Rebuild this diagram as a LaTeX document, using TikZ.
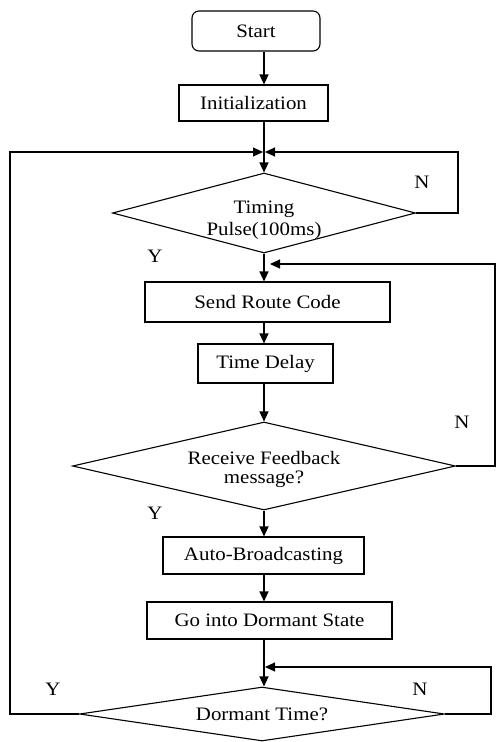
\documentclass[tikz,border=0pt]{standalone}
\usepackage{fontspec}
\setmainfont{Liberation Serif}[FakeStretch=1.1]
\usetikzlibrary{shapes.geometric,arrows.meta,calc}
\begin{document}
\begin{tikzpicture}[x=1pt,y=-1pt,
  every node/.style={font=\fontsize{19}{21}\selectfont},
  box/.style={draw,line width=1.1pt,inner sep=0pt,anchor=center},
  dia/.style={draw,diamond,line width=1.1pt,inner sep=0pt,align=center,shape aspect=3.8},
  lbl/.style={inner sep=0pt,anchor=center},
  ln/.style={line width=1.1pt},
  arr/.style={line width=1.1pt,-{Triangle[length=10pt,width=9pt]}}]
\useasboundingbox (0,0) rectangle (496,742);
\coordinate (cx) at (264,0);
\node[box,rounded corners=7pt,minimum width=128pt,minimum height=40pt] (start) at (256,31) {Start};
\node[box,minimum width=149pt,minimum height=36pt] (init) at (253.5,103) {Initialization};
\node[dia,minimum width=303pt,minimum height=80pt] (d1) at (264,213) {\raisebox{-7pt}[\height][\depth]{\begin{tabular}{@{}c@{}}Timing\\[1pt]Pulse(100ms)\end{tabular}}};
\node[box,minimum width=245pt,minimum height=40pt] (send) at (267.5,302) {Send Route Code};
\node[box,minimum width=135pt,minimum height=39pt] (delay) at (265.5,363.5) {Time Delay};
\node[dia,minimum width=383pt,minimum height=88pt] (d2) at (264,466) {\raisebox{-4pt}[\height][\depth]{\begin{tabular}{@{}c@{}}Receive Feedback\\[-2pt]message?\end{tabular}}};
\node[box,minimum width=201pt,minimum height=37pt] (auto) at (263.5,555.5) {Auto-Broadcasting};
\node[box,minimum width=245pt,minimum height=37pt] (dorm) at (269.5,620.5) {Go into Dormant State};
\node[dia,minimum width=365pt,minimum height=54pt,shape aspect=6.5] (d3) at (262,714) {Dormant Time?};
\coordinate (m1) at (264,152);
\coordinate (m2) at (264,264);
\coordinate (m3) at (264,667);
\coordinate (r1) at (458,0);
\coordinate (r2) at (495,0);
\coordinate (r3) at (491,0);
\coordinate (l3) at (10,0);
% labels
\node[lbl] (n1) at (422,182) {N};
\node[lbl] (y1) at (155,256) {Y};
\node[lbl] (n2) at (462,422) {N};
\node[lbl] (y2) at (155,513) {Y};
\node[lbl] (y3) at (53,689) {Y};
\node[lbl] (n3) at (420,689) {N};
% connectors
\draw[arr] (start.south -| cx) -- (init.north -| cx);
\draw[ln] (init.south -| cx) -- (m1);
\draw[arr] (m1) -- (d1.north -| cx);
\draw[arr] (d1.south -| cx) -- (send.north -| cx);
\draw[arr] (send.south -| cx) -- (delay.north -| cx);
\draw[arr] (delay.south -| cx) -- (d2.north -| cx);
\draw[arr] (d2.south -| cx) -- (auto.north -| cx);
\draw[arr] (auto.south -| cx) -- (dorm.north -| cx);
\draw[ln] (dorm.south -| cx) -- (m3);
\draw[arr] (m3) -- (d3.north -| cx);
% loops
\draw[arr] (d1.east) -- (d1.east -| r1) -- (m1 -| r1) -- ([xshift=1pt]m1);
\draw[arr] (d2.east) -- (d2.east -| r2) -- (m2 -| r2) -- ([xshift=6pt]m2);
\draw[arr] (d3.east) -- (d3.east -| r3) -- (m3 -| r3) -- ([xshift=1pt]m3);
\draw[arr] (d3.west) -- ++(-6,0) -- (d3.west -| l3) -- (m1 -| l3) -- ([xshift=-1pt]m1);
\end{tikzpicture}
\end{document}
